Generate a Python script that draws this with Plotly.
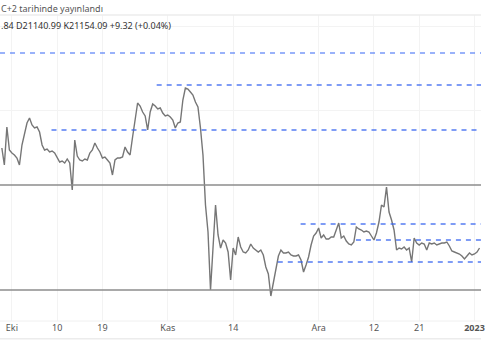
import pandas as pd
import plotly.graph_objects as go

# 12-hour closing prices from 2022-09-29 00:00
start = "2022-09-29 00:00"
prices = [
    19670, 19160, 20300, 19610, 19520, 19460, 19370, 19160, 19760, 20060,
    20420, 20570, 20360, 20270, 20300, 20150, 19760, 19610, 19640, 19550,
    19580, 19520, 19400, 19250, 19280, 19220, 19340, 19220, 18410, 19910,
    19430, 19310, 19280, 19340, 19310, 19520, 19610, 19820, 19670, 19550,
    19370, 19400, 19310, 19220, 18860, 19310, 19370, 19370, 19400, 19700,
    19550, 19460, 20000, 20510, 21020, 20930, 20750, 20630, 20210, 20750,
    20990, 20930, 20840, 20870, 20720, 20630, 20660, 20600, 20510, 20270,
    20420, 20450, 21110, 21470, 21440, 21350, 21260, 21050, 20900, 20270,
    19460, 17960, 17150, 15410, 16610, 17960, 17060, 16670, 16910, 16820,
    16550, 15710, 16670, 16460, 17000, 16700, 16550, 16520, 16610, 16790,
    16670, 16610, 16550, 16610, 16460, 16100, 15890, 15230, 15620, 16010,
    16430, 16610, 16520, 16520, 16550, 16460, 16430, 16430, 16460, 16310,
    15950, 16160, 16400, 16760, 17030, 17120, 17270, 16970, 17060, 16940,
    16940, 17000, 17000, 17210, 17420, 16970, 17030, 16880, 16790, 16760,
    16850, 17300, 17240, 17210, 17150, 17180, 17150, 17030, 16910, 17120,
    17450, 17960, 17900, 18500, 17750, 17510, 17210, 16610, 16670, 16640,
    16700, 16610, 16670, 16250, 16970, 16820, 16760, 16820, 16790, 16610,
    16820, 16790, 16820, 16760, 16790, 16820, 16820, 16850, 16730, 16580,
    16550, 16520, 16490, 16430, 16340, 16430, 16520, 16460, 16490, 16550,
    16670,
]
dates = pd.date_range(start, periods=len(prices), freq="12h")

# horizontal levels: (price, start date or None for full width, colour, width)
dashed_levels = [
    (22520, None, "rgba(70,115,245,0.55)", 2),
    (21560, "2022-10-29 19:00", "rgba(55,100,240,0.85)", 1.5),
    (20210, "2022-10-08 21:00", "rgba(55,100,240,0.85)", 1.5),
    (17390, "2022-11-27 10:00", "rgba(55,100,240,0.85)", 1.5),
    (16910, "2022-12-08 10:00", "rgba(55,100,240,0.85)", 1.5),
    (16250, "2022-11-22 21:00", "rgba(55,100,240,0.85)", 1.5),
]
solid_levels = [18560, 15410]

tick_dates = ["2022-10-01", "2022-10-10", "2022-10-19", "2022-11-01", "2022-11-14",
              "2022-12-01", "2022-12-12", "2022-12-21", "2023-01-01"]
tick_labels = ["Eki", "10", "19", "Kas", "14", "Ara", "12", "21", "<b>2023</b>"]
grid_prices = [23330, 20810]

x_start = "2022-09-28 15:10"
x_end = "2023-01-02 07:00"

fig = go.Figure()
fig.add_trace(go.Scatter(x=dates, y=prices, mode="lines",
                         line=dict(color="#767676", width=1.4),
                         hoverinfo="skip", showlegend=False))

shapes = []
for p in solid_levels:
    shapes.append(dict(type="line", xref="paper", yref="y", x0=0, x1=1, y0=p, y1=p,
                       line=dict(color="#8c8c8c", width=1.5)))
for p, s, c, w in dashed_levels:
    if s is None:
        shapes.append(dict(type="line", xref="paper", yref="y", x0=0, x1=1, y0=p, y1=p,
                           line=dict(color=c, width=w, dash="5px,5px")))
    else:
        shapes.append(dict(type="line", xref="x", yref="y", x0=s, x1=x_end, y0=p, y1=p,
                           line=dict(color=c, width=w, dash="5px,5px")))
# top and bottom separators
shapes.append(dict(type="line", xref="paper", yref="paper", x0=0, x1=1, y0=1, y1=1,
                   line=dict(color="#ececec", width=1.5)))
shapes.append(dict(type="line", xref="paper", yref="paper", x0=0, x1=1, y0=-0.058, y1=-0.058,
                   line=dict(color="#ececec", width=1.5)))
shapes.append(dict(type="line", xref="paper", yref="paper", x0=0, x1=1, y0=0, y1=0,
                   line=dict(color="#f0f0f0", width=1)))

annotations = [
    dict(text="C+2 tarihinde yayınlandı", xref="paper", yref="paper", x=-0.003, y=1.02,
         xanchor="left", yanchor="middle", showarrow=False,
         font=dict(family="Noto Sans", size=9, color="#555555")),
    dict(text=".84 D21140.99 K21154.09 +9.32 (+0.04%)", xref="paper", yref="paper",
         x=-0.003, y=0.967, xanchor="left", yanchor="middle", showarrow=False,
         font=dict(family="Noto Sans", size=9, color="#333333")),
]

fig.update_layout(
    width=485, height=360,
    margin=dict(l=0, r=0, t=15, b=39),
    paper_bgcolor="white", plot_bgcolor="white",
    shapes=shapes, annotations=annotations,
    showlegend=False,
    xaxis=dict(range=[x_start, x_end], tickvals=tick_dates, ticktext=tick_labels,
               showgrid=True, gridcolor="#f3f3f3", gridwidth=1, zeroline=False,
               showline=False, ticks="", ticklabeloverflow="allow",
               tickfont=dict(family="Noto Sans", size=9, color="#555555")),
    yaxis=dict(range=[14480, 23660], tickvals=grid_prices, showticklabels=False,
               showgrid=True, gridcolor="#f3f3f3", gridwidth=1, zeroline=False,
               showline=False, ticks=""),
)

fig.write_html("out.html", config={"displayModeBar": False},
               post_script="document.body.style.margin='0';document.body.style.overflow='hidden';")
